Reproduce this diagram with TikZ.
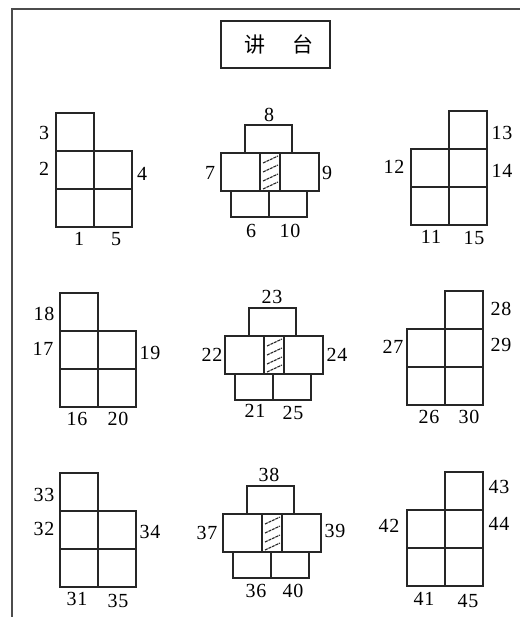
\documentclass[tikz,border=0pt]{standalone}
\usepackage{fontspec}
\setmainfont[LetterSpace=4]{Liberation Serif}
\newfontfamily\cjk{Noto Sans CJK SC}
\usetikzlibrary{positioning}

\begin{document}
\begin{tikzpicture}[
    x=1pt, y=-1pt,
    node distance=0pt and 0pt,
    box/.style={rectangle, draw=black!85, line width=1.3pt, inner sep=0pt, outer sep=0pt},
    seat/.style={box, minimum width=38pt, minimum height=38pt},
    midseat/.style={box, minimum width=39pt, minimum height=38pt},
    lowseat/.style={box, minimum width=38pt, minimum height=26pt},
    topseat/.style={box, minimum width=47pt, minimum height=28pt},
    desk/.style={box, minimum width=20pt, minimum height=38pt},
    hatch/.style={line width=1.1pt, black!85, dash pattern=on 3pt off 0.8pt},
    num/.style={inner sep=0pt, font=\fontsize{20}{20}\selectfont},
    frameline/.style={line width=2pt, black!70}
  ]
    \useasboundingbox (0,0) rectangle (520,617);

    \coordinate (fa) at (12,617);
    \coordinate (fb) at (12,9);
    \coordinate (fc) at (520,9);
    \draw[frameline] (fa) -- (fb) -- (fc);

    \node[box, minimum width=109pt, minimum height=47pt, font=\cjk\fontsize{21}{21}\selectfont] (title) at (275.5,44.5)
      {\hspace{7pt}讲\hspace{27pt}台};

    % left blocks
    \foreach \g/\x/\y in {a/75/132, b/79/312, c/79/492} {
      \node[seat] (\g1) at (\x,\y) {};
      \node[seat, below=of \g1] (\g2) {};
      \node[seat, below=of \g2] (\g3) {};
      \node[seat, right=of \g2] (\g4) {};
      \node[seat, right=of \g3] (\g5) {};
    }

    % right blocks
    \foreach \g/\x/\y in {d/468/130, e/464/310, f/464/491} {
      \node[seat] (\g1) at (\x,\y) {};
      \node[seat, below=of \g1] (\g2) {};
      \node[seat, below=of \g2] (\g3) {};
      \node[seat, left=of \g2] (\g4) {};
      \node[seat, left=of \g3] (\g5) {};
    }

    % middle blocks
    \foreach \g/\x/\y in {m/270/172, n/274/355, o/272/533} {
      \node[desk] (\g d) at (\x,\y) {};
      \node[midseat, left=of \g d] (\g l) {};
      \node[midseat, right=of \g d] (\g r) {};
      \node[topseat, above=of \g d, xshift=-1.5pt] (\g t) {};
      \node[lowseat, anchor=north east, xshift=-1pt] (\g a) at (\g d.south) {};
      \node[lowseat, right=of \g a] (\g b) {};
      \foreach \s in {-12,-3,6,14}
        \draw[hatch] ([shift={(-7,\s+3)}]\g d.center) -- ([shift={(8,\s-4)}]\g d.center);
    }

    \foreach \n/\x/\y in {
        1/79/239, 2/44/169, 3/44/133, 4/142/174, 5/116/239,
        6/251/231, 7/210/173, 8/269/115, 9/327/173, 10/290/231,
        11/431/237, 12/394/167, 13/502/133, 14/502/171, 15/474/238,
        16/77/419, 17/43/349, 18/44/314, 19/150/353, 20/118/419,
        21/255/411, 22/212/355, 23/272/297, 24/337/355, 25/293/413,
        26/429/417, 27/393/347, 28/501/309, 29/501/345, 30/469/417,
        31/77/599, 32/44/529, 33/44/495, 34/150/532, 35/118/601,
        36/256/591, 37/207/533, 38/269/475, 39/335/531, 40/293/591,
        41/424/599, 42/389/526, 43/499/487, 44/499/524, 45/468/601}
      \node[num] (lab\n) at (\x,\y) {\n};
\end{tikzpicture}
\end{document}
